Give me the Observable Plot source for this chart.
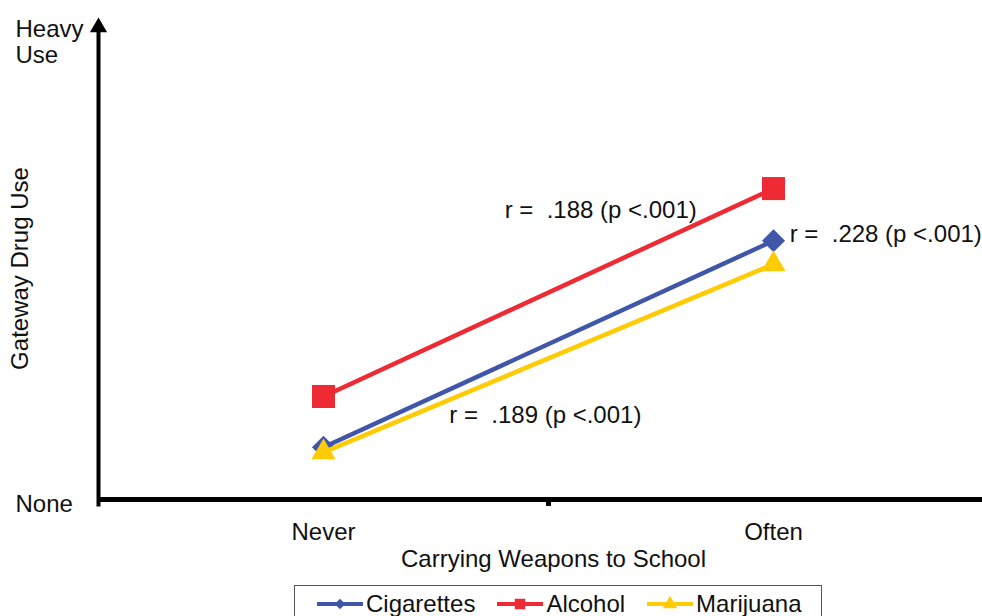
<!DOCTYPE html>
<html>
<head>
<meta charset="utf-8">
<script src="https://cdn.jsdelivr.net/npm/d3@7"></script>
<script src="https://cdn.jsdelivr.net/npm/@observablehq/plot@0.6"></script>
<style>
  html, body { margin: 0; padding: 0; background: #fff; }
  body { font-family: "Liberation Sans", Arial, sans-serif; width: 982px; height: 616px; overflow: hidden; }
  #legend {
    position: relative; margin-left: 294px; margin-top: 3px; width: 528px; height: 38px;
    border: 1px solid #555; box-sizing: border-box; display: flex; align-items: center;
    padding-left: 22px; font-size: 24px; color: #111; line-height: 1;
  }
  #legend .item { display: flex; align-items: center; margin-right: 22px; }
  #legend svg { display: block; margin-right: 3px; }
</style>
</head>
<body>
<div id="chart"></div>
<div id="legend"></div>
<script>
// ---- data ----
const categories = ["Never", "Often"];
const seriesNames = ["Cigarettes", "Alcohol", "Marijuana"];
const cigarettes = [1.13, 5.60];
const alcohol = [2.23, 6.73];
const marijuana = [1.02, 5.09];
const seriesColors = ["#4056A8", "#EE2B34", "#FFCB05"];
const seriesSymbols = ["diamond2", "square", "triangle"];
const seriesMarkerR = [10.4, 13, 9];
const yTickValues = [0, 10];
const yTickLabels = ["None", "Heavy\nUse"];
const xTitle = "Carrying Weapons to School";
const yTitle = "Gateway Drug Use";
const annotationTexts = ["r =\u00a0 .188 (p <.001)", "r =\u00a0 .228 (p <.001)", "r =\u00a0 .189 (p <.001)"];
const annotationX = [1.116, 1.536, 0.993];
const annotationY = [6.26, 5.74, 1.82];
const annotationAnchor = ["middle", "start", "middle"];

const seriesValues = [cigarettes, alcohol, marijuana];
const rows = seriesNames.map((s, k) =>
  categories.map((c, i) => ({series: s, category: c, x: i + 0.5, y: seriesValues[k][i]}))
);
const annotations = annotationTexts.map((t, i) => ({text: t, x: annotationX[i], y: annotationY[i], anchor: annotationAnchor[i]}));

const marks = [
  // axes lines
  Plot.ruleY([0], {strokeWidth: 5, stroke: "black"}),
  Plot.ruleX([0], {y1: -0.16, y2: 10.15, strokeWidth: 4, stroke: "black"}),
  Plot.ruleX([1], {y1: -0.15, y2: 0, strokeWidth: 5, stroke: "black"}),
  Plot.dot([10.22], {x: 0, y: d => d, symbol: "triangle", r: 6.4, fill: "black", stroke: null}),
  Plot.axisX({ticks: categories.map((c, i) => i + 0.5), tickFormat: d => categories[Math.floor(d)], tickSize: 0, tickPadding: 23, label: null, fontSize: 24}),
  Plot.axisY({ticks: yTickValues, tickFormat: d => yTickLabels[yTickValues.indexOf(d)], tickSize: 0, tickPadding: 83, textAnchor: "start", lineHeight: 1.08, dy: 4, label: null, fontSize: 24}),
  Plot.text([xTitle], {text: d => d, frameAnchor: "bottom", lineAnchor: "middle", dx: 13, dy: 60, fontSize: 24}),
  Plot.text([yTitle], {text: d => d, frameAnchor: "left", textAnchor: "middle", rotate: -90, dx: -78, fontSize: 24})
];
rows.forEach((r, k) => {
  marks.push(Plot.line(r, {x: "x", y: "y", stroke: seriesColors[k], strokeWidth: 4.5}));
  marks.push(Plot.dot(r, {x: "x", y: "y", symbol: seriesSymbols[k], r: seriesMarkerR[k], fill: seriesColors[k], stroke: null}));
});
["middle", "start"].forEach(a => {
  marks.push(Plot.text(annotations.filter(d => d.anchor === a), {x: "x", y: "y", text: "text", textAnchor: a, fontSize: 24, fill: "#111"}));
});

const chart = Plot.plot({
  width: 982,
  height: 582,
  marginLeft: 98,
  marginRight: 0,
  marginTop: 37,
  marginBottom: 83,
  style: {fontFamily: "'Liberation Sans', Arial, sans-serif", fontSize: "24px", background: "white", color: "#111"},
  x: {type: "linear", domain: [0, 2], range: [98, 998], axis: null},
  y: {type: "linear", domain: [0, 10], range: [499, 37], axis: null},
  marks
});
document.getElementById("chart").appendChild(chart);

// ---- legend ----
const legendSymbols = {diamond2: d3.symbolDiamond2, square: d3.symbolSquare, triangle: d3.symbolTriangle};
const legendSizes = [70, 110, 90];
const legend = d3.select("#legend");
seriesNames.forEach((name, k) => {
  const item = legend.append("div").attr("class", "item");
  const svg = item.append("svg").attr("width", 46).attr("height", 22);
  svg.append("line").attr("x1", 0).attr("x2", 46).attr("y1", 11).attr("y2", 11)
    .attr("stroke", seriesColors[k]).attr("stroke-width", 4);
  svg.append("path").attr("transform", "translate(23,11)")
    .attr("d", d3.symbol(legendSymbols[seriesSymbols[k]], legendSizes[k])())
    .attr("fill", seriesColors[k]);
  item.append("span").text(name);
});
</script>
</body>
</html>
